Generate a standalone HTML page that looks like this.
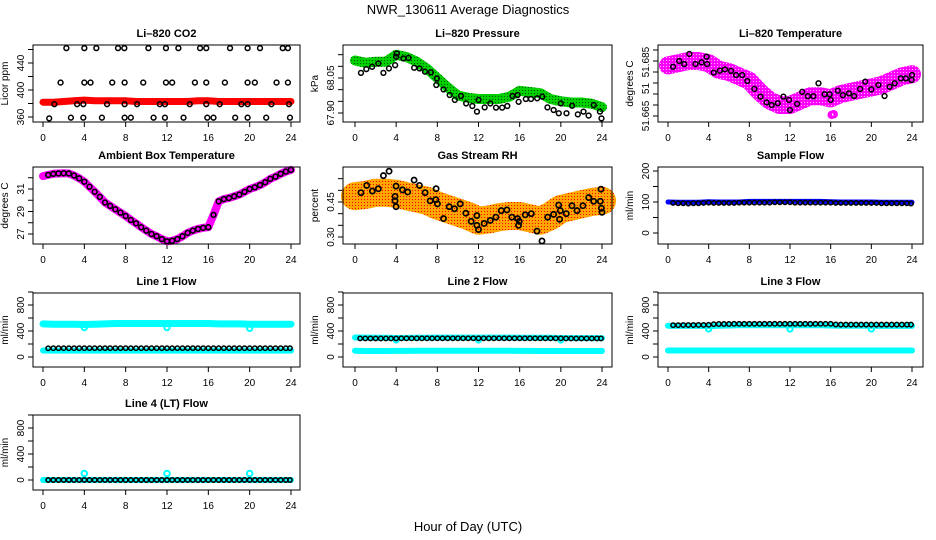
<!DOCTYPE html>
<html><head><meta charset="utf-8"><title>NWR_130611 Average Diagnostics</title>
<style>
html,body{margin:0;padding:0;background:#fff;}
svg{display:block;font-family:"Liberation Sans",Arial,sans-serif;}
</style></head>
<body>
<svg id="chart" width="936" height="540" viewBox="0 0 936 540" xmlns="http://www.w3.org/2000/svg">
<defs>
<pattern id="speckGreen" width="3" height="3" patternUnits="userSpaceOnUse"><rect width="3" height="3" fill="#00d000"/><rect width="1" height="1" fill="#005500"/></pattern>
<pattern id="speckMag" width="3" height="3" patternUnits="userSpaceOnUse"><rect width="3" height="3" fill="#ff00ff"/><rect width="1" height="1" fill="#ffb0ff"/></pattern>
<pattern id="speckOrange" width="3" height="3" patternUnits="userSpaceOnUse"><rect width="3" height="3" fill="#ffa500"/><rect x="1" y="1" width="1" height="1" fill="#ff0000"/></pattern>
</defs>
<rect width="936" height="540" fill="#fff"/>
<text x="468" y="14" text-anchor="middle" font-size="13">NWR_130611  Average Diagnostics</text>
<text x="468" y="531" text-anchor="middle" font-size="13">Hour of Day (UTC)</text>
</svg>
<script>
// ---------- data ----------
const hours24 = [0,1,2,3,4,5,6,7,8,9,10,11,12,13,14,15,16,17,18,19,20,21,22,23,24];
const halfHours = [0.5,1,1.5,2,2.5,3,3.5,4,4.5,5,5.5,6,6.5,7,7.5,8,8.5,9,9.5,10,10.5,11,11.5,12,12.5,13,13.5,14,14.5,15,15.5,16,16.5,17,17.5,18,18.5,19,19.5,20,20.5,21,21.5,22,22.5,23,23.5,23.9];
const xTicks = [0,4,8,12,16,20,24];

// Li-820 CO2
const co2Red = [382,382,383,384,385,384,384,384,384,383,383,383,383,383,383,384,384,383,383,383,383,383,383,383,383];
const co2BlackHours = [2.26,4,5.16,7.26,7.87,10.2,11.9,13.1,15.2,15.8,18.1,19.8,21,23.2,23.7,
 1.7,4,4.6,6.7,7.9,9.7,11.9,12.5,14.7,15.8,17.6,19.8,20.5,22.6,23.7,
 1.1,3.3,3.9,6.2,7.9,9.1,11.3,11.8,14.2,15.8,17.1,19.2,19.8,22.1,23.8,
 0.6,2.7,3.9,5.7,7.9,8.5,10.7,11.8,13.6,15.9,16.5,18.6,19.8,21.6,23.9];
const co2BlackVals = [462,462,462,462,462,462,462,462,462,462,462,462,462,462,462,
 411,411,411,411,411,411,411,411,411,411,411,411,411,411,411,
 379,379,379,379,379,379,379,379,379,379,379,379,379,379,379,
 358,359,359,359,359,359,359,359,359,359,359,359,359,359,359];
const co2Ticks = [360,380,400,420,440,460];
const co2Labels = [360,400,440];

// Li-820 Pressure
const pressGreen = [68.125,68.115,68.12,68.12,68.15,68.14,68.12,68.09,68.05,68.01,67.975,67.965,67.96,67.96,67.96,67.97,67.995,67.99,67.985,67.96,67.95,67.945,67.945,67.94,67.925];
const pressBlackHours = [0.58,1.1,1.66,2.27,2.76,3.3,3.9,4,4.06,4.7,5.2,5.75,6.27,6.8,7.37,7.9,7.95,8.6,9.2,9.7,10.3,10.8,11.4,11.85,12,12.6,13.15,13.7,14.3,14.8,15.3,15.8,15.9,16.6,17.1,17.7,18.2,18.7,19.3,19.8,20,20.55,21.1,21.65,22.2,22.7,23.2,23.8,23.95];
const pressBlackVals = [68.072,68.088,68.098,68.112,68.072,68.091,68.105,68.141,68.155,68.134,68.136,68.094,68.091,68.077,68.074,68.02,68.048,68.001,67.977,67.956,67.973,67.941,67.93,67.906,67.956,67.924,67.941,67.923,67.923,67.93,67.973,67.977,67.948,67.96,67.96,67.963,67.97,67.924,67.913,67.899,67.941,67.899,67.931,67.894,67.906,67.889,67.934,67.906,67.877];
const pressTicks = [67.90,67.95,68.00,68.05,68.10,68.15];
const pressLabels = ["67.90","68.05"];
const pressLabelVals = [67.90,68.05];

// Li-820 Temperature
const tempMag = [51.688,51.689,51.690,51.690,51.689,51.686,51.685,51.683,51.681,51.676,51.672,51.670,51.670,51.672,51.674,51.674,51.673,51.675,51.676,51.677,51.678,51.679,51.681,51.683,51.684];
const tempOutlierHours = [16.1,16.3];
const tempOutlierVals = [51.6655,51.6658];
const tempBlackHours = [0.5,1.1,1.6,2.1,2.7,3.3,3.8,3.85,4.5,5.1,5.6,6.2,6.7,7.3,7.8,8.5,9.1,9.7,10.2,10.8,11.35,11.9,12,12.7,13.2,13.75,14.3,14.8,15.4,15.9,16,16.7,17.2,17.8,18.3,18.9,19.4,20,20.7,21.3,21.8,22.3,22.9,23.4,24,23.95];
const tempBlackVals = [51.6874,51.69,51.6886,51.6932,51.6886,51.6894,51.692,51.6886,51.6847,51.6856,51.6862,51.6855,51.6836,51.6836,51.6809,51.6773,51.6738,51.6712,51.67,51.6708,51.6738,51.6723,51.6677,51.6705,51.676,51.674,51.674,51.6799,51.6749,51.6749,51.6723,51.6765,51.6745,51.6753,51.6741,51.6773,51.6806,51.6771,51.6791,51.6741,51.6783,51.6799,51.6821,51.6821,51.6836,51.6814];
const tempTicks = [51.665,51.670,51.675,51.680,51.685,51.690,51.695];
const tempLabels = ["51.665","51","51.685"];
const tempLabelVals = [51.665,51.6775,51.6895];

// Ambient Box Temperature
const ambHours = [0,0.5,1,1.5,2,2.5,3,3.5,4,4.5,5,5.5,6,6.5,7,7.5,8,8.5,9,9.5,10,10.5,11,11.5,12,12.5,13,13.5,14,14.5,15,15.5,16,16.5,17,17.5,18,18.5,19,19.5,20,20.5,21,21.5,22,22.5,23,23.5,24];
const ambVals = [32.15,32.25,32.35,32.38,32.4,32.38,32.2,31.95,31.65,31.2,30.75,30.3,29.8,29.5,29.2,28.9,28.6,28.25,27.95,27.6,27.3,27.0,26.8,26.55,26.35,26.4,26.55,26.8,27.1,27.3,27.45,27.55,27.6,28.7,29.9,30.1,30.2,30.35,30.5,30.75,31.0,31.15,31.35,31.6,31.9,32.1,32.35,32.55,32.7];
const ambTicks = [27,28,29,30,31,32];
const ambLabels = [27,29,31];

// Gas Stream RH
const rhBand = [0.475,0.48,0.49,0.49,0.485,0.475,0.465,0.455,0.435,0.42,0.405,0.39,0.37,0.375,0.385,0.39,0.39,0.38,0.37,0.39,0.42,0.43,0.44,0.45,0.455];
const rhBlackHours = [0.58,1.14,1.69,2.27,2.76,3.31,3.89,3.89,3.99,3.99,4.61,5.12,5.74,6.26,6.81,7.30,7.85,7.88,8.01,8.60,9.15,9.67,10.22,10.77,11.29,11.84,11.84,12.0,12.55,13.14,13.69,14.21,14.76,15.24,15.80,15.89,15.96,16.54,17.13,17.68,18.17,18.72,19.30,19.79,19.88,19.95,20.53,21.08,21.57,22.15,22.71,23.19,23.84,23.9,23.94,24.0];
const rhBlackVals = [0.490,0.521,0.497,0.507,0.563,0.582,0.474,0.455,0.430,0.518,0.502,0.493,0.544,0.521,0.490,0.455,0.460,0.507,0.442,0.379,0.430,0.421,0.442,0.402,0.367,0.350,0.392,0.332,0.358,0.371,0.385,0.413,0.416,0.385,0.379,0.350,0.367,0.395,0.400,0.325,0.283,0.385,0.397,0.437,0.376,0.413,0.400,0.434,0.413,0.434,0.469,0.453,0.453,0.505,0.423,0.406];
const rhTicks = [0.30,0.35,0.40,0.45,0.50,0.55];
const rhLabels = ["0.30","0.45"];
const rhLabelVals = [0.30,0.45];

// Sample Flow
const sampleBlue = [100,99,99,99,101,100,100,100,102,102,102,102,102,102,102,102,101,100,100,100,100,99,99,99,99];
const sampleBlack = [97,96,96,95,96,96,97,98,97,97,97,97,97,98,98,98,98,98,98,98,99,99,99,99,98,98,98,98,98,98,98,98,97,97,97,97,97,97,97,97,97,96,96,96,96,96,96,95];
const sampleTicks = [0,50,100,150,200];
const sampleLabels = [0,100,200];

// Line flows
const flowTicks = [0,200,400,600,800,1000];
const flowLabels = [0,400,800];
const line1CyanHigh = [510,505,505,505,500,505,510,515,515,515,515,515,515,515,515,515,515,510,510,510,505,505,505,505,505];
const line1CyanLow = [100,98,98,98,98,98,98,98,98,98,98,98,98,98,98,98,98,98,98,98,98,98,98,98,98];
const line1DipHours = [4,12,20];
const line1DipVals = [450,450,440];
const line1Black = [134,135,135,135,135,135,135,135,136,136,136,136,136,136,136,136,136,136,136,136,136,136,136,136,136,136,136,136,136,136,136,136,136,136,136,136,136,136,135,135,135,135,135,135,135,135,135,135];

const line2CyanHigh = [300,298,296,295,292,294,295,296,298,298,298,298,298,298,298,298,296,295,295,295,292,290,290,290,290];
const line2CyanLow = [95,92,92,92,94,94,96,96,96,96,96,96,96,96,96,96,94,94,92,92,92,92,92,92,92];
const line2DipHours = [4,12,20];
const line2DipVals = [262,262,262];
const line2Black = [286,286,286,286,286,286,286,286,287,287,287,287,287,287,287,288,288,288,288,288,288,288,288,288,288,288,288,288,288,288,288,288,287,287,287,287,287,287,287,287,286,286,286,286,286,286,286,286];

const line3CyanHigh = [480,478,478,478,475,480,485,488,488,488,488,488,488,488,488,488,485,482,480,480,478,478,478,478,478];
const line3CyanLow = [100,100,100,100,100,100,100,100,100,100,100,100,100,100,100,100,100,100,100,100,100,100,100,100,100];
const line3DipHours = [4,12,20];
const line3DipVals = [430,430,430];
const line3Black = [490,490,492,492,492,493,493,495,505,508,508,508,510,510,510,510,510,510,510,510,510,510,510,510,510,510,510,510,510,510,510,510,500,498,498,498,498,498,498,498,498,498,498,498,498,498,498,498];

const line4Cyan = [0,0,0,0,0,0,0,0,0,0,0,0,0,0,0,0,0,0,0,0,0,0,0,0,0];
const line4BumpHours = [4,12,20];
const line4BumpVals = [100,100,100];
const line4Black = [0,0,0,0,0,0,0,0,0,0,0,0,0,0,0,0,0,0,0,0,0,0,0,0,0,0,0,0,0,0,0,0,0,0,0,0,0,0,0,0,0,0,0,0,0,0,0,0];

// ---------- drawing ----------
const NS = "http://www.w3.org/2000/svg";
const svg = document.getElementById("chart");
function mk(tag, attrs, parent){
  const e = document.createElementNS(NS, tag);
  for (const k in attrs) e.setAttribute(k, attrs[k]);
  (parent || svg).appendChild(e);
  return e;
}
const cols = [{x0:33,x1:300,h0:43,h24:291},{x0:343,x1:612,h0:355,h24:602},{x0:658,x1:923,h0:668,h24:912}];
const rows = [{y0:45,y1:122},{y0:167,y1:244},{y0:293,y1:367},{y0:415,y1:490}];

function makePanel(name, title, ylab, col, row, v1, p1, v2, p2){
  const c = cols[col], r = rows[row];
  const g = mk("g", {});
  
  
  const P = {g, c, r,
    x: h => c.h0 + (c.h24 - c.h0) * h / 24,
    y: v => p1 + (v - v1) * (p2 - p1) / (v2 - v1)};
  const t = mk("text", {x:(c.x0+c.x1)/2, y:r.y0-8, "text-anchor":"middle", "font-size":11, "font-weight":"bold"}, g);
  t.textContent = title;
  
  
  const yl = mk("text", {x:0, y:0, "text-anchor":"middle", "font-size":10, transform:`translate(${c.x0-25},${(r.y0+r.y1)/2}) rotate(-90)`}, g);
  yl.textContent = ylab;
  
  
  const xa = mk("g", {}, g);
  
  
  mk("line", {x1:P.x(xTicks[0]), x2:P.x(xTicks[xTicks.length-1]), y1:r.y1, y2:r.y1, stroke:"#000"}, xa);
  xTicks.forEach(h => {
    mk("line", {x1:P.x(h), x2:P.x(h), y1:r.y1, y2:r.y1+5, stroke:"#000"}, xa);
    const tx = mk("text", {x:P.x(h), y:r.y1+19, "text-anchor":"middle", "font-size":10}, xa);
    tx.textContent = h;
    
    
  });
  return P;
}
function yAxis(P, name, ticks, labelVals, labelTexts){
  const c = P.c;
  const ya = mk("g", {}, P.g);
  
  
  mk("line", {x1:c.x0, x2:c.x0, y1:P.y(ticks[0]), y2:P.y(ticks[ticks.length-1]), stroke:"#000"}, ya);
  ticks.forEach(v => mk("line", {x1:c.x0-5, x2:c.x0, y1:P.y(v), y2:P.y(v), stroke:"#000"}, ya));
  labelVals.forEach((v, i) => {
    const t = mk("text", {x:0, y:0, "text-anchor":"middle", "font-size":10, transform:`translate(${c.x0-9},${P.y(v)}) rotate(-90)`}, ya);
    t.textContent = labelTexts[i];
    
    
  });
}
function box(P, name){
  const b = mk("rect", {x:P.c.x0, y:P.r.y0, width:P.c.x1-P.c.x0, height:P.r.y1-P.r.y0, fill:"none", stroke:"#000"}, P.g);
  
  
}
function band(P, name, hrs, vals, color, width){
  const pts = hrs.map((h, i) => P.x(h).toFixed(1) + "," + P.y(vals[i]).toFixed(1)).join(" ");
  const pl = mk("polyline", {points:pts, fill:"none", stroke:color, "stroke-width":width, "stroke-linejoin":"round", "stroke-linecap":"round"}, P.g);
  
  
}
function dots(P, name, hrs, vals, color, r, sw){
  const g = mk("g", {}, P.g);
  
  
  hrs.forEach((h, i) => {
    const ci = mk("circle", {cx:P.x(h), cy:P.y(vals[i]), r:r || 2.4, fill:"none", stroke:color, "stroke-width":sw || 1.5}, g);
    
    
  });
}

let P = makePanel("co2", "Li\u2013820 CO2", "Licor ppm", 0, 0, 360, 117, 400, 90);
yAxis(P, "co2", co2Ticks, co2Labels, co2Labels);
band(P, "co2-red-series", hours24, co2Red, "#ff0000", 7);
dots(P, "co2-black-series", co2BlackHours, co2BlackVals, "#000");
box(P, "co2");

P = makePanel("pressure", "Li\u2013820 Pressure", "kPa", 1, 0, 67.90, 113, 68.05, 78);
yAxis(P, "pressure", pressTicks, pressLabelVals, pressLabels);
band(P, "pressure-green-series", hours24, pressGreen, "url(#speckGreen)", 10);
dots(P, "pressure-black-series", pressBlackHours, pressBlackVals, "#000");
box(P, "pressure");

P = makePanel("li820-temp", "Li\u2013820 Temperature", "degrees C", 2, 0, 51.665, 116, 51.685, 72);
yAxis(P, "li820-temp", tempTicks, tempLabelVals, tempLabels);
band(P, "li820-temp-magenta-series", hours24, tempMag, "url(#speckMag)", 18);
dots(P, "li820-temp-outliers", tempOutlierHours, tempOutlierVals, "#ff00ff", 3, 2.5);
dots(P, "li820-temp-black-series", tempBlackHours, tempBlackVals, "#000");
box(P, "li820-temp");

P = makePanel("ambient", "Ambient Box Temperature", "degrees C", 0, 1, 27, 234, 31, 189);
yAxis(P, "ambient", ambTicks, ambLabels, ambLabels);
band(P, "ambient-magenta-series", ambHours, ambVals, "#ff00ff", 8);
dots(P, "ambient-black-series", ambHours.slice(1), ambVals.slice(1), "#000", 2.4, 1.6);
box(P, "ambient");

P = makePanel("rh", "Gas Stream RH", "percent", 1, 1, 0.30, 237, 0.45, 202);
yAxis(P, "rh", rhTicks, rhLabelVals, rhLabels);
band(P, "rh-orange-series", hours24, rhBand, "url(#speckOrange)", 28);
dots(P, "rh-black-series", rhBlackHours, rhBlackVals, "#000", 2.6, 1.7);
box(P, "rh");

P = makePanel("sample-flow", "Sample Flow", "ml/min", 2, 1, 0, 233, 200, 171);
yAxis(P, "sample-flow", sampleTicks, sampleLabels, sampleLabels);
band(P, "sample-flow-blue-series", hours24, sampleBlue, "#0000ff", 5);
dots(P, "sample-flow-black-series", halfHours, sampleBlack, "#000", 2.2, 1.5);
box(P, "sample-flow");

P = makePanel("line1-flow", "Line 1 Flow", "ml/min", 0, 2, 0, 357, 800, 305);
yAxis(P, "line1-flow", flowTicks, flowLabels, flowLabels);
band(P, "line1-cyan-high-series", hours24, line1CyanHigh, "#00ffff", 7);
band(P, "line1-cyan-low-series", hours24, line1CyanLow, "#00ffff", 6);
dots(P, "line1-cyan-dips", line1DipHours, line1DipVals, "#00ffff", 2.6, 2);
dots(P, "line1-black-series", halfHours, line1Black, "#000", 2.2, 1.5);
box(P, "line1-flow");

P = makePanel("line2-flow", "Line 2 Flow", "ml/min", 1, 2, 0, 357, 800, 305);
yAxis(P, "line2-flow", flowTicks, flowLabels, flowLabels);
band(P, "line2-cyan-high-series", hours24, line2CyanHigh, "#00ffff", 6);
band(P, "line2-cyan-low-series", hours24, line2CyanLow, "#00ffff", 6);
dots(P, "line2-cyan-dips", line2DipHours, line2DipVals, "#00ffff", 2.6, 2);
dots(P, "line2-black-series", halfHours, line2Black, "#000", 2.2, 1.5);
box(P, "line2-flow");

P = makePanel("line3-flow", "Line 3 Flow", "ml/min", 2, 2, 0, 357, 800, 305);
yAxis(P, "line3-flow", flowTicks, flowLabels, flowLabels);
band(P, "line3-cyan-high-series", hours24, line3CyanHigh, "#00ffff", 6);
band(P, "line3-cyan-low-series", hours24, line3CyanLow, "#00ffff", 6);
dots(P, "line3-cyan-dips", line3DipHours, line3DipVals, "#00ffff", 2.6, 2);
dots(P, "line3-black-series", halfHours, line3Black, "#000", 2.2, 1.5);
box(P, "line3-flow");

P = makePanel("line4-flow", "Line 4 (LT) Flow", "ml/min", 0, 3, 0, 480, 800, 428);
yAxis(P, "line4-flow", flowTicks, flowLabels, flowLabels);
band(P, "line4-cyan-series", hours24, line4Cyan, "#00ffff", 6);
dots(P, "line4-cyan-bumps", line4BumpHours, line4BumpVals, "#00ffff", 2.8, 2);
dots(P, "line4-black-series", halfHours, line4Black, "#000", 2.2, 1.6);
box(P, "line4-flow");
</script>
</body></html>
